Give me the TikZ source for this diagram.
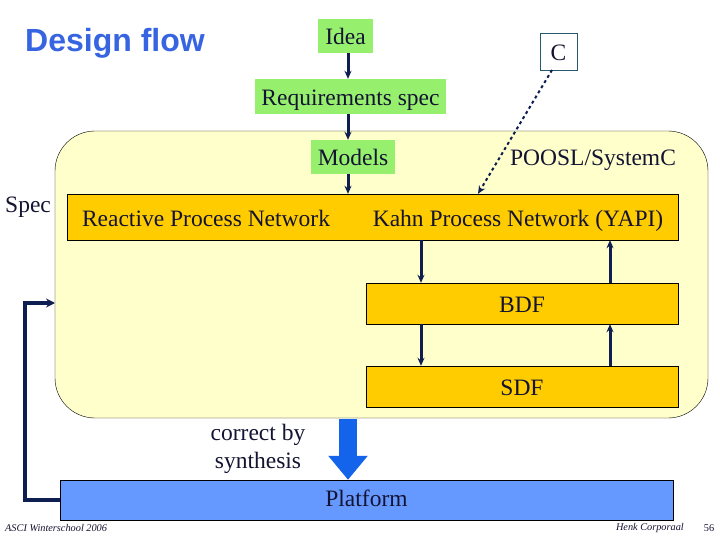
\documentclass[tikz,border=0pt]{standalone}
\usepackage{fontspec}
\setmainfont{Liberation Serif}
\newfontfamily\titlefont{Liberation Sans}
\usetikzlibrary{arrows.meta}

\definecolor{specgreen}{RGB}{150,240,110}
\definecolor{framefill}{RGB}{255,255,204}
\definecolor{barorange}{RGB}{255,204,0}
\definecolor{platblue}{RGB}{102,153,255}
\definecolor{synthblue}{RGB}{20,100,235}
\definecolor{navy}{RGB}{15,30,80}
\definecolor{titleblue}{RGB}{55,100,225}
\definecolor{inktext}{RGB}{20,20,50}

\begin{document}
\begin{tikzpicture}[x=1pt, y=-1pt,
    every node/.style={text=inktext, font=\fontsize{23.5}{26}\selectfont, inner sep=0pt},
    label text/.style={text height=20pt, text depth=2pt},
    greenbox/.style={fill=specgreen, minimum height=34pt, label text},
    layer/.style={draw=black, thin, fill=barorange, minimum height=41pt, label text},
    flow/.style={navy, line width=3pt, -{Stealth[length=8pt,width=7pt]}},
    feedback/.style={navy, line width=4pt, -{Stealth[length=9pt,width=9pt]}}]
  \useasboundingbox[fill=white] (0,0) rectangle (720,540);

  % title and footer
  \node[text=titleblue, font=\titlefont\bfseries\fontsize{32}{34}\selectfont, anchor=base west] (title) at (25,52) {Design flow};
  \node[font=\itshape\fontsize{10.3}{11}\selectfont, anchor=west] (school) at (5,528) {ASCI Winterschool 2006};
  \node[font=\itshape\fontsize{10.3}{11}\selectfont, anchor=east] (author) at (684,528) {Henk Corporaal};
  \node[font=\fontsize{10.3}{11}\selectfont] (page) at (709,528) {56};

  % spec region
  \node[draw=black, thin, fill=framefill, rounded corners=40pt,
        minimum width=653pt, minimum height=287pt] (frame) at (381.5,274.5) {};

  \coordinate (col) at (348,0);
  \coordinate (down) at (421,0);
  \coordinate (up) at (610,0);
  \coordinate (kahn) at (478,0);
  \coordinate (fbin) at (55,303);

  \node[greenbox, minimum width=55pt] (idea) at (345.5,36) {Idea};
  \node[greenbox, minimum width=191pt, minimum height=35pt] (req) at (350.5,96.5) {Requirements spec};
  \node[greenbox, minimum width=84pt] (models) at (353,157) {Models};
  \node[draw={rgb,255:red,40;green,90;blue,110}, fill=white, minimum size=37pt, label text] (c) at (558.5,51.5) {C};
  \node[label text] (poosl) at (593,157) {POOSL/SystemC};
  \node[label text, anchor=west] (spec) at (5,204) {Spec};

  \node[draw=black, thin, fill=barorange, minimum width=611pt, minimum height=46pt] (bar) at (372.5,217) {};
  \node[label text] (rpn) at (206,217) {Reactive Process Network};
  \node[label text] (kpn) at (518,217) {Kahn Process Network (YAPI)};
  \node[layer, minimum width=312pt] (bdf) at (522,303.5) {BDF};
  \node[layer, minimum width=312pt] (sdf) at (522,386.5) {SDF};

  \node[draw=black, thin, fill=platblue, minimum width=613pt, minimum height=40pt,
        text height=16pt, text depth=4pt] (plat) at (366.5,500) {Platform};
  \node[align=center, font=\fontsize{23.5}{28}\selectfont] (synth) at (258,449) {correct by\\synthesis};

  % connectors
  \draw[flow] (idea.south -| col) -- (req.north -| col);
  \draw[flow] (req.south -| col) -- (models.north -| col);
  \draw[flow] (models.south -| col) -- (bar.north -| col);
  \draw[flow, line width=2pt, dashed] (552,70) -- (bar.north -| kahn);
  \draw[flow] (bar.south -| down) -- (bdf.north -| down);
  \draw[flow] (bdf.south -| down) -- (sdf.north -| down);
  \draw[flow] (sdf.north -| up) -- (bdf.south -| up);
  \draw[flow] (bdf.north -| up) -- (bar.south -| up);
  \draw[synthblue, line width=18pt, -{Triangle[length=24pt,width=38pt]}]
    ([yshift=-1pt]frame.south -| col) -- (plat.north -| col);
  \draw[feedback] (plat.west) -- ++(-35,0) |- (fbin);
\end{tikzpicture}
\end{document}
